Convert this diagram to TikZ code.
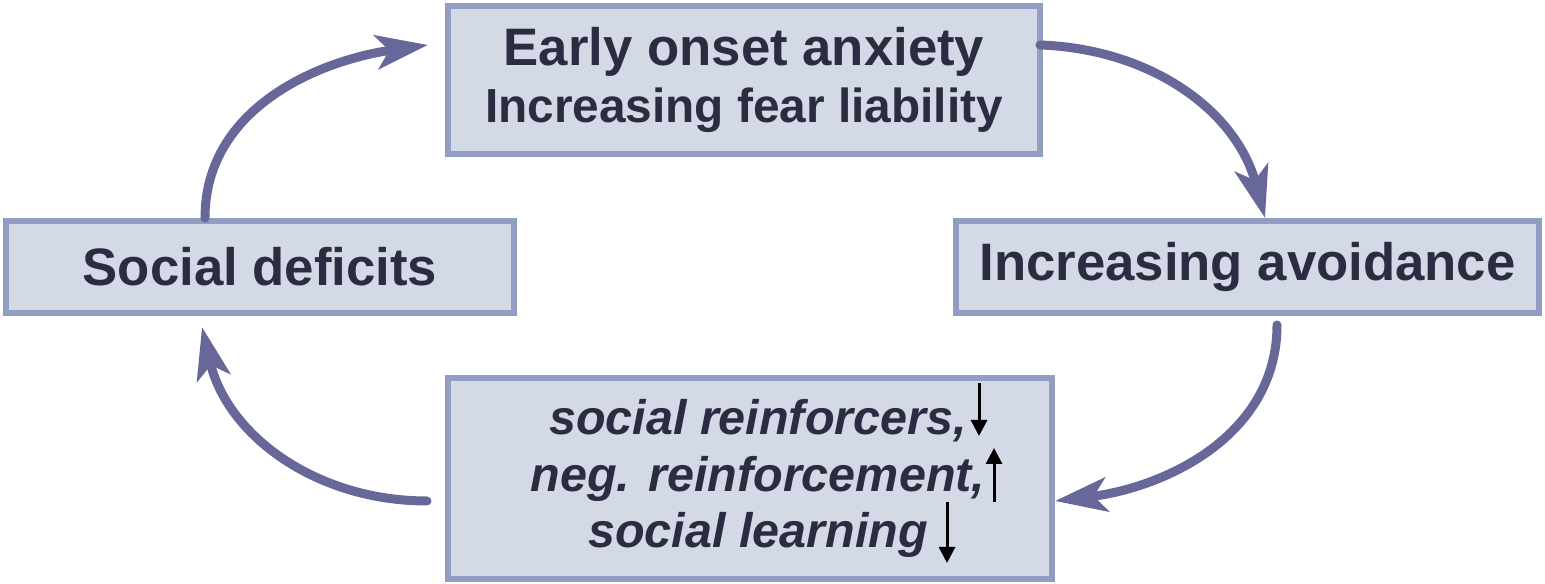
\documentclass[tikz,border=0pt]{standalone}
\usepackage{fontspec}
\setmainfont{Liberation Sans}
\usetikzlibrary{arrows.meta}
\definecolor{boxfill}{HTML}{D4D9E6}
\definecolor{boxline}{HTML}{929DC3}
\definecolor{cycleline}{HTML}{67679A}
\definecolor{textnavy}{HTML}{2B2B42}

\begin{document}
\begin{tikzpicture}[
  stage/.style={draw=boxline, fill=boxfill, line width=0.06cm, text=textnavy,
    font=\bfseries\fontsize{15}{16.2}\selectfont, align=center, inner sep=0pt},
  cyclearrow/.style={cycleline, line width=0.09cm, line cap=round,
    -{Stealth[length=0.52cm,width=0.34cm,inset=0.13cm]}},
  updown/.style={black, line width=0.03cm, -{Triangle[length=0.16cm,width=0.16cm]}}]
  \useasboundingbox (0,0) rectangle (15.45,5.84);

  % the four stages
  \node (onset) [stage, minimum width=5.92cm, minimum height=1.48cm] at (7.44,5.04)
    {Early onset anxiety\\{\fontsize{13.6}{16.2}\selectfont Increasing fear liability}};
  \node (deficits) [stage, minimum width=5.08cm, minimum height=0.92cm] at (2.60,3.17)
    {Social deficits};
  \node (avoid) [stage, minimum width=5.83cm, minimum height=0.92cm] at (12.475,3.17)
    {Increasing avoidance};
  \node (reinf) [stage, minimum width=6.04cm, minimum height=2.01cm,
    font=\bfseries\itshape\fontsize{13.8}{16.2}\selectfont] at (7.50,1.055)
    {\hspace*{0.16cm}social reinforcers,\\\hspace*{0.16cm}neg. reinforcement,\\\hspace*{0.16cm}social learning};

  % the vicious circle
  \draw[cyclearrow] ([xshift=-0.55cm]deficits.north) to[out=90,in=188] ([xshift=-0.17cm,yshift=0.35cm]onset.west);
  \draw[cyclearrow] ([xshift=-0.03cm,yshift=0.35cm]onset.east) to[out=-2,in=105] ([xshift=0.175cm]avoid.north);
  \draw[cyclearrow] ([xshift=0.295cm,yshift=-0.09cm]avoid.south) to[out=-90,in=7] ([yshift=-0.225cm]reinf.east);
  \draw[cyclearrow] ([xshift=-0.18cm,yshift=-0.225cm]reinf.west) to[out=180,in=-77] ([xshift=-0.58cm,yshift=-0.11cm]deficits.south);

  % up / down marks
  \draw[updown] ([shift={(2.29,0.955)}]reinf.center) -- ([shift={(2.29,0.425)}]reinf.center);
  \draw[updown] ([shift={(2.44,-0.235)}]reinf.center) -- ([shift={(2.44,0.305)}]reinf.center);
  \draw[updown] ([shift={(1.97,-0.235)}]reinf.center) -- ([shift={(1.97,-0.845)}]reinf.center);
\end{tikzpicture}
\end{document}
